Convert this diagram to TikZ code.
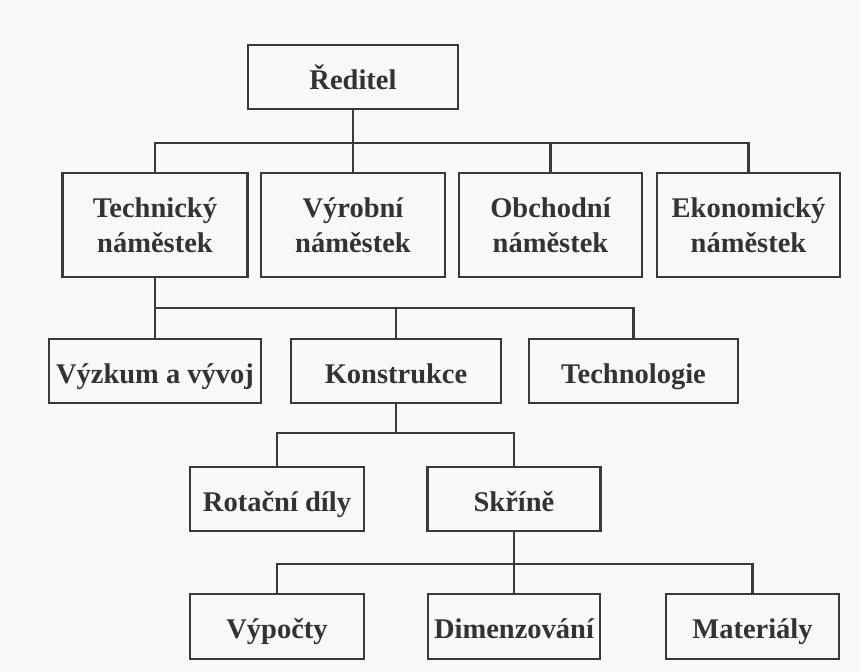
\documentclass[tikz,border=0pt]{standalone}
\usepackage{fontspec}
\setmainfont{Liberation Serif}
\begin{document}
\begin{tikzpicture}[x=1pt,y=-1pt,
  ink/.style={draw=linegray, line width=2.1pt},
  orgbox/.style={ink, fill=none, rectangle, inner sep=0pt, align=center,
    text=textgray, font=\fontsize{28.5pt}{35pt}\selectfont\bfseries},
  box1/.style={orgbox, minimum height=64pt, text height=28pt, text depth=4pt},
  box2/.style={orgbox, minimum height=104pt},
  wire/.style={ink, line cap=rect}]
\definecolor{linegray}{HTML}{3A3A3A}
\definecolor{textgray}{HTML}{333333}
\definecolor{paper}{HTML}{F8F8F6}
\useasboundingbox[fill=paper] (0,0) rectangle (860,672);

% boxes
\node[box1, minimum width=210pt] (red)   at (353,77)    {Ředitel};
\node[box2, minimum width=185pt] (tech)  at (155,225)   {Technický\\náměstek};
\node[box2, minimum width=184pt] (vyr)   at (353,225)   {Výrobní\\náměstek};
\node[box2, minimum width=183pt] (obch)  at (550.5,225) {Obchodní\\náměstek};
\node[box2, minimum width=183pt] (ekon)  at (748.5,225) {Ekonomický\\náměstek};
\node[box1, minimum width=212pt] (vyzk)  at (155,371)   {Výzkum a vývoj};
\node[box1, minimum width=210pt] (kons)  at (396,371)   {Konstrukce};
\node[box1, minimum width=209pt] (techn) at (633.5,371) {Technologie};
\node[box1, minimum width=174pt] (rot)   at (277,499)   {Rotační díly};
\node[box1, minimum width=173pt] (skr)   at (514,499)   {Skříně};
\node[box1, minimum width=174pt, minimum height=65pt] (vyp) at (277,626.5) {Výpočty};
\node[box1, minimum width=172pt, minimum height=65pt] (dim) at (514,626.5) {Dimenzování};
\node[box1, minimum width=173pt, minimum height=65pt] (mat) at (752.5,626.5) {Materiály};

% bus levels
\coordinate (b1) at (0,143);
\coordinate (b2) at (0,308);
\coordinate (b3) at (0,433);
\coordinate (b4) at (0,564);

% level 1
\draw[wire] (red.south) -- (red.south |- b1);
\draw[wire] (tech.north) |- (b1 -| ekon.north) -- (ekon.north);
\draw[wire] (vyr.north) -- (vyr.north |- b1);
\draw[wire] (obch.north) -- (obch.north |- b1);

% level 2
\draw[wire] (tech.south) -- (vyzk.north);
\draw[wire] (tech.south |- b2) -- (b2 -| techn.north) -- (techn.north);
\draw[wire] (kons.north) -- (kons.north |- b2);

% level 3
\draw[wire] (kons.south) -- (kons.south |- b3);
\draw[wire] (rot.north) |- (b3 -| skr.north) -- (skr.north);

% level 4
\draw[wire] (skr.south) -- (dim.north);
\draw[wire] (vyp.north) |- (b4 -| mat.north) -- (mat.north);
\end{tikzpicture}
\end{document}
